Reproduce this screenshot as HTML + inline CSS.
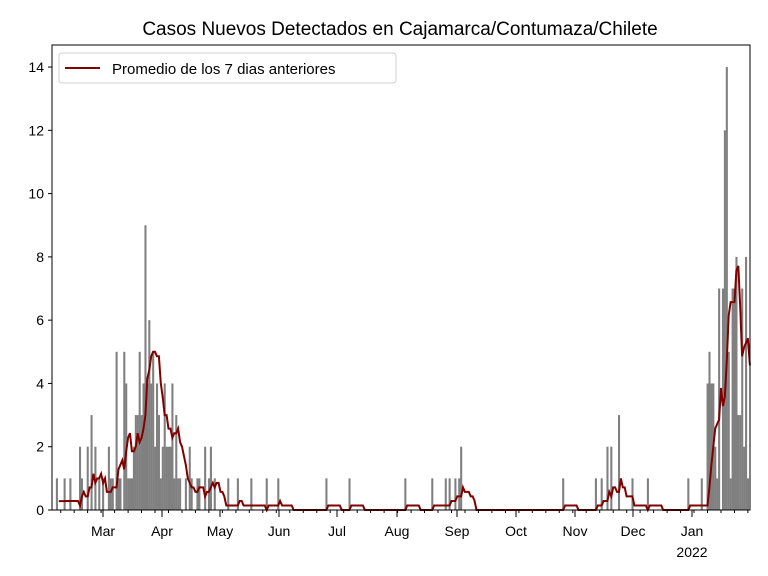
<!DOCTYPE html><html><head><meta charset="utf-8"><style>body{margin:0;background:#fff}svg{display:block;font-family:"Liberation Sans","DejaVu Sans",sans-serif}</style></head><body>
<svg id="s" width="768" height="576" xmlns="http://www.w3.org/2000/svg">
<text x="400" y="35" font-size="19" text-anchor="middle" fill="#000">Casos Nuevos Detectados en Cajamarca/Contumaza/Chilete</text>
<g id="bars"></g>
<polyline id="avg" fill="none" stroke="#800000" stroke-width="2" points=""/>
<rect x="52" y="45" width="698" height="465" fill="none" stroke="#000" stroke-width="1"/>
<g id="ax" font-size="14" fill="#000"></g>
<rect x="59" y="53" width="337" height="30" rx="3" fill="#fff" stroke="#ccc" opacity="0.9"/>
<line x1="65" y1="68" x2="100" y2="68" stroke="#800000" stroke-width="2"/>
<text x="112" y="74" font-size="15">Promedio de los 7 dias anteriores</text>
</svg>
<script>
var X0=53,D=1.925,Y0=510,U=31.64;
var pts=[[57,1],[64,1],[70,1],[79,2],[82,1],[87,2],[91,3],[95,2],[100,1],[104,1],[109,2],[111,1],[113,1],[116,5],[119,1],[121,1],[124,5],[126,4],[128,1],[130,1],[133,2],[135,3],[137,3],[139,5],[141,3],[143,4],[145,9],[147,4],[149,6],[151,4],[153,5],[155,2],[157,4],[159,3],[161,1],[163,2],[165,4],[167,2],[169,2],[171,2],[173,4],[175,1],[177,3],[179,1],[181,1],[185,1],[190,2],[192,1],[197,1],[200,1],[205,2],[208,1],[211,2],[214,1],[229,1],[238,1],[251,1],[266,1],[278,1],[326,1],[349,1],[405,1],[432,1],[446,1],[450,1],[455,1],[459,1],[462,2],[563,1],[596,1],[602,1],[607,2],[611,2],[618,3],[632,1],[648,1],[688,1],[701,1],[708,4],[710,5],[712,4],[714,4],[716,2],[718,1],[720,7],[722,7],[724,12],[726,14],[728,5],[730,1],[732,7],[734,7],[736,8],[738,3],[740,3],[742,7],[744,2],[746,8],[748,1]];
var N=363,v=new Array(N).fill(0);
pts.forEach(function(p){var i=Math.round((p[0]-X0)/D);if(i>=0&&i<N)v[i]=p[1];});
for(var i=Math.round((130-X0)/D);i<Math.round((176-X0)/D);i++)if(v[i]==0)v[i]=1;
var ns="http://www.w3.org/2000/svg",g=document.getElementById('bars'),s="";
for(var i=0;i<N;i++){if(v[i]>0){var r=document.createElementNS(ns,'rect');r.setAttribute('x',X0+i*D-D/2);r.setAttribute('width',D+0.15);r.setAttribute('y',Y0-v[i]*U);r.setAttribute('height',v[i]*U);r.setAttribute('fill','#808080');g.appendChild(r);}}
for(var i=3;i<N;i++){var a=0;for(var k=Math.max(0,i-7);k<i;k++)a+=v[k];a/=7;if(i<=6)a=0.28;s+=(X0+i*D).toFixed(1)+","+(Y0-a*U).toFixed(1)+" ";}
document.getElementById('avg').setAttribute('points',s);
var ax=document.getElementById('ax'),h="";
for(var y=0;y<=14;y+=2){var yy=Y0-y*U;h+='<line x1="48" x2="52" y1="'+yy+'" y2="'+yy+'" stroke="#000"/><text x="44" y="'+(yy+5)+'" text-anchor="end">'+y+'</text>';}
var m=[["Mar",103],["Apr",162],["May",220],["Jun",279],["Jul",337],["Aug",397],["Sep",457],["Oct",516],["Nov",575],["Dec",633],["Jan",692]];
m.forEach(function(q){h+='<line x1="'+q[1]+'" x2="'+q[1]+'" y1="510" y2="517" stroke="#000"/><text x="'+q[1]+'" y="536" text-anchor="middle">'+q[0]+'</text>';});
h+='<text x="692" y="557" text-anchor="middle">2022</text>';
for(var x=X0+4*D;x<750;x+=7*D)h+='<line x1="'+x.toFixed(1)+'" x2="'+x.toFixed(1)+'" y1="510" y2="513" stroke="#000"/>';
ax.innerHTML=h;
</script></body></html>
